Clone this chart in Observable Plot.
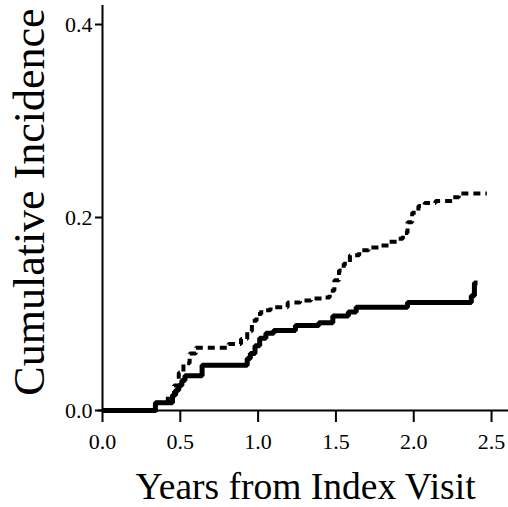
<!DOCTYPE html>
<html>
<head>
<meta charset="utf-8">
<script src="https://cdn.jsdelivr.net/npm/d3@7"></script>
<script src="https://cdn.jsdelivr.net/npm/@observablehq/plot@0.6"></script>
<style>
  html, body { margin: 0; padding: 0; background: #fff; }
</style>
</head>
<body>
<div id="chart"></div>
<script>
// Solid curve (step function)
const solidTime = [0, 0.34, 0.45, 0.47, 0.49, 0.51, 0.53, 0.64, 0.93, 0.95, 0.98, 1.01, 1.05, 1.10, 1.24, 1.39, 1.48, 1.58, 1.63, 1.96, 2.37, 2.39, 2.41];
const solidInc  = [0, 0.008, 0.016, 0.021, 0.026, 0.031, 0.036, 0.047, 0.054, 0.059, 0.067, 0.075, 0.080, 0.083, 0.088, 0.091, 0.098, 0.102, 0.107, 0.112, 0.119, 0.132, 0.132];

// Dashed curve (step function)
const dashedTime = [0, 0.35, 0.42, 0.46, 0.49, 0.52, 0.56, 0.60, 0.81, 0.89, 0.93, 0.96, 0.99, 1.02, 1.08, 1.19, 1.27, 1.34, 1.43, 1.46, 1.49, 1.52, 1.55, 1.59, 1.65, 1.71, 1.79, 1.84, 1.90, 1.93, 1.96, 1.99, 2.03, 2.07, 2.14, 2.25, 2.29, 2.47];
const dashedInc  = [0, 0.008, 0.015, 0.026, 0.039, 0.049, 0.059, 0.065, 0.069, 0.074, 0.082, 0.093, 0.100, 0.104, 0.107, 0.112, 0.114, 0.116, 0.117, 0.124, 0.135, 0.145, 0.152, 0.161, 0.166, 0.169, 0.171, 0.175, 0.178, 0.184, 0.195, 0.205, 0.212, 0.215, 0.217, 0.221, 0.225, 0.225];

const xTicks = [0, 0.5, 1.0, 1.5, 2.0, 2.5];
const yTicks = [0, 0.2, 0.4];
const xTitle = "Years from Index Visit";
const yTitle = "Cumulative Incidence";

const solid = solidTime.map((t, i) => ({t, v: solidInc[i]}));
const dashed = dashedTime.map((t, i) => ({t, v: dashedInc[i]}));

const xMax = 2.609, yMax = 0.4197;

const chart = Plot.plot({
  width: 508,
  height: 507,
  marginTop: 5,
  marginRight: 0,
  marginBottom: 97,
  marginLeft: 102,
  style: {fontFamily: "'Liberation Serif', 'Times New Roman', serif", fontSize: "22px", color: "black", background: "white"},
  x: {domain: [0, xMax], label: null},
  y: {domain: [0, yMax], label: null},
  marks: [
    Plot.axisX({ticks: xTicks, tickFormat: d3.format(".1f"), tickSize: 12, tickPadding: 11, strokeWidth: 2, fontSize: 22, label: null}),
    Plot.axisY({ticks: yTicks, tickFormat: d3.format(".1f"), tickSize: 7, tickPadding: 3, strokeWidth: 2, fontSize: 22, label: null}),
    Plot.ruleY([0], {x1: -0.026, x2: xMax, strokeWidth: 2}),
    Plot.ruleX([0], {y1: 0, y2: yMax, strokeWidth: 2}),
    Plot.line(dashed, {x: "t", y: "v", curve: "step-after", stroke: "black", strokeWidth: 4, strokeDasharray: "7,5", strokeLinecap: "butt", strokeLinejoin: "miter"}),
    Plot.line(solid, {x: "t", y: "v", curve: "step-after", stroke: "black", strokeWidth: 5, strokeLinecap: "butt", strokeLinejoin: "miter"}),
    Plot.text([xTitle], {text: d => d, frameAnchor: "bottom", textAnchor: "middle", lineAnchor: "bottom", dy: 88, fontSize: 37.5, fill: "black"}),
    Plot.text([yTitle], {text: d => d, frameAnchor: "left", textAnchor: "middle", lineAnchor: "bottom", rotate: -90, dx: -59, dy: -6, fontSize: 44, fill: "black"})
  ]
});
document.getElementById("chart").appendChild(chart);
</script>
</body>
</html>
